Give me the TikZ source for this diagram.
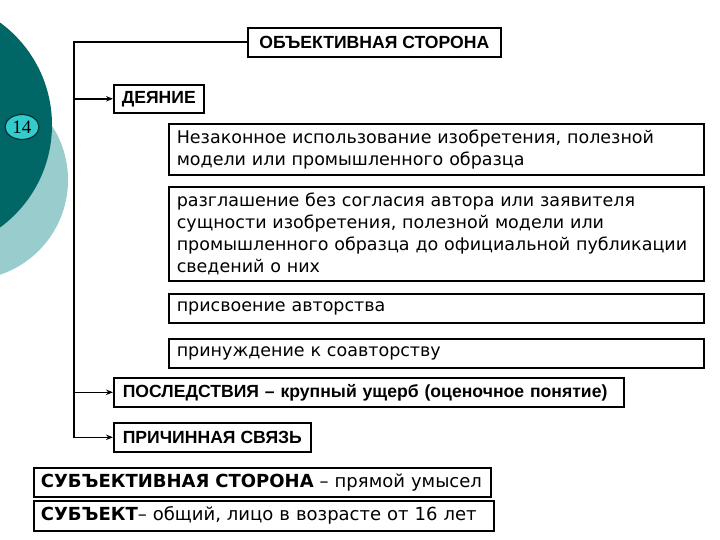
\documentclass[tikz,border=0pt]{standalone}
\usepackage{fontspec}
\setmainfont{DejaVu Sans}
\newfontfamily\arialf{Liberation Sans}
\newfontfamily\serf{Liberation Serif}
\usetikzlibrary{arrows.meta,shapes.geometric}
\definecolor{darkteal}{RGB}{0,102,102}
\definecolor{lightteal}{RGB}{153,204,204}
\definecolor{badgecyan}{RGB}{51,204,204}
\definecolor{badgeline}{RGB}{0,51,51}
\tikzset{
  box/.style={draw=black, line width=1.6pt, fill=white, anchor=north west,
    inner xsep=8pt, inner ysep=0pt, align=left,
    font=\fontsize{17.5}{22}\selectfont},
  subbox/.style={box, inner xsep=7pt, font=\fontsize{18}{22}\selectfont},
  head/.style={draw=black, line width=1.6pt, fill=white, anchor=north west,
    inner xsep=0pt, inner ysep=0pt, align=center,
    font=\arialf\bfseries\fontsize{17.6}{20}\selectfont},
  conn/.style={line width=1.6pt},
  arr/.style={conn, -{Stealth[length=7pt,width=5.5pt]}},
}
\begin{document}
\begin{tikzpicture}[x=1pt,y=-1pt]
\useasboundingbox (0,0) rectangle (720,540);
% decorative circles
\fill[lightteal] (-32,180) circle (100pt);
\fill[darkteal] (-75,125) circle (127pt);
\node[ellipse, draw=badgeline, line width=1.2pt, fill=badgecyan, minimum width=34pt,
  minimum height=25pt, inner sep=0pt, font=\serf\fontsize{19}{19}\selectfont]
  (badge) at (22,127) {14};
% boxes
\node[head, minimum width=253pt, minimum height=29pt] (obj) at (247,27) {ОБЪЕКТИВНАЯ СТОРОНА};
\node[head, minimum width=90pt, minimum height=28pt] (de) at (113,84) {ДЕЯНИЕ};
\node[box, text width=519pt, minimum height=51pt] (n1) at (168,123)
  {Незаконное использование изобретения, полезной\\модели или промышленного образца};
\node[box, text width=519pt, minimum height=94pt] (n2) at (168,186)
  {разглашение без согласия автора или заявителя\\сущности изобретения, полезной модели или\\промышленного образца до официальной публикации\\сведений о них};
\node[box, text width=519pt, minimum height=29pt] (n3) at (168,293) {присвоение авторства};
\node[box, text width=519pt, minimum height=29pt] (n4) at (168,338) {принуждение к соавторству};
\node[head, align=left, inner xsep=9pt, text width=492pt, minimum height=29pt] (pos) at (113,377)
  {ПОСЛЕДСТВИЯ – крупный ущерб (оценочное понятие)};
\node[head, minimum width=197pt, minimum height=29pt] (pr) at (113,422) {ПРИЧИННАЯ СВЯЗЬ};
\node[subbox, text width=443pt, minimum height=29pt] (sub1) at (33,467)
  {\textbf{СУБЪЕКТИВНАЯ СТОРОНА} – прямой умысел};
\node[subbox, text width=446pt, minimum height=30pt] (sub2) at (33,500)
  {\textbf{СУБЪЕКТ}– общий, лицо в возрасте от 16 лет};
% connectors
\coordinate (spine) at (74,0);
\draw[arr] (obj.west) -| (spine |- pr.west) -- (pr.west);
\draw[arr] (spine |- de.west) -- (de.west);
\draw[arr] (spine |- pos.west) -- (pos.west);
\end{tikzpicture}
\end{document}
